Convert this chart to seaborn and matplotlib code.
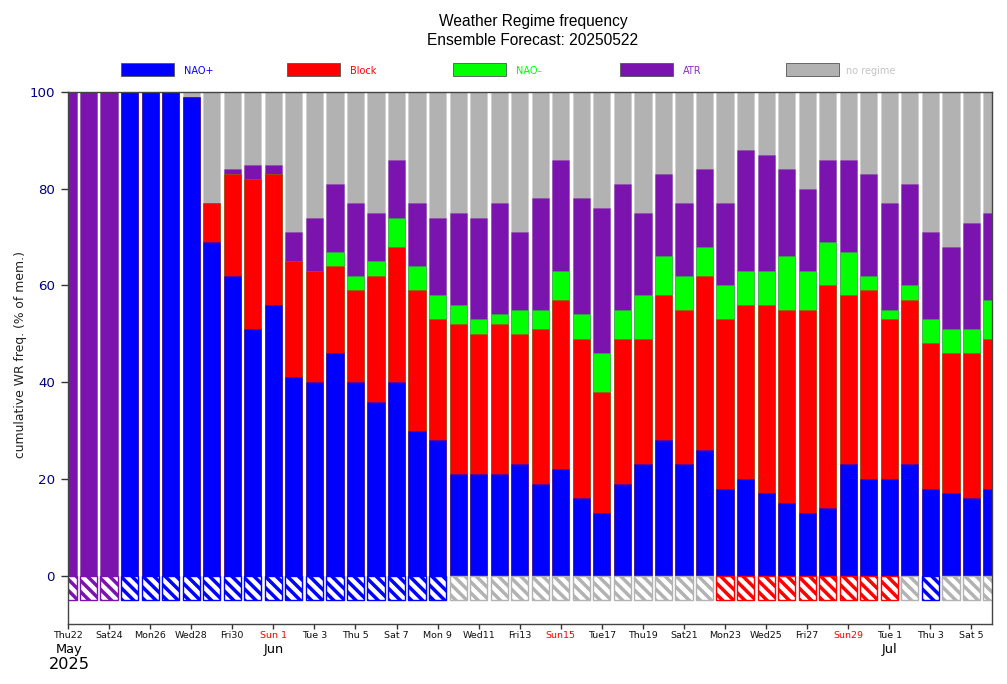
import numpy as np
import matplotlib
matplotlib.use("Agg")
import matplotlib.pyplot as plt
from matplotlib.patches import Rectangle
import seaborn as sns

# cumulative tops (% of members) per forecast day
days = list(range(46))
nao_plus = [0,0,0,100,100,100,99,69,62,51,56,41,40,46,40,36,40,30,28,21,21,21,23,19,22,16,13,19,23,28,23,26,18,20,17,15,13,14,23,20,20,23,18,17,16,18]
block    = [0,0,0,100,100,100,99,77,83,82,83,65,63,64,59,62,68,59,53,52,50,52,50,51,57,49,38,49,49,58,55,62,53,56,56,55,55,60,58,59,53,57,48,46,46,49]
nao_minus= [0,0,0,100,100,100,99,77,83,82,83,65,63,67,62,65,74,64,58,56,53,54,55,55,63,54,46,55,58,66,62,68,60,63,63,66,63,69,67,62,55,60,53,51,51,57]
atr      = [100,100,100,100,100,100,99,77,84,85,85,71,74,81,77,75,86,77,74,75,74,77,71,78,86,78,76,81,75,83,77,84,77,88,87,84,80,86,86,83,77,81,71,68,73,75]
no_regime= [100]*46
dominant = ["ATR"]*3 + ["NAO+"]*16 + ["no regime"]*13 + ["Block"]*9 + ["no regime"] + ["NAO+"] + ["no regime"]*3

regimes = ["NAO+", "Block", "NAO-", "ATR", "no regime"]
colors = ["#0000ff", "#ff0000", "#00ff00", "#7b14af", "#b2b2b2"]
label_colors = ["#0000ff", "#ff0000", "#00ff00", "#8a2bc0", "#c4c4c4"]

tick_days = list(range(0, 46, 2))
tick_labels = ["Thu22","Sat24","Mon26","Wed28","Fri30","Sun 1","Tue 3","Thu 5","Sat 7","Mon 9","Wed11",
               "Fri13","Sun15","Tue17","Thu19","Sat21","Mon23","Wed25","Fri27","Sun29","Tue 1","Thu 3","Sat 5"]
month_days = [0, 10, 40]
month_labels = ["May", "Jun", "Jul"]
year_label = "2025"
y_ticks = [0, 20, 40, 60, 80, 100]

sns.set_style("ticks")
plt.rcParams["font.family"] = ["DejaVu Sans"]
plt.rcParams["hatch.linewidth"] = 2.5
fig = plt.figure(figsize=(10.07, 6.84), dpi=100)
W, H = 1007.0, 684.0
ax = fig.add_axes([68/W, 1-624/H, (992-68)/W, (624-92)/H])

layers = [(no_regime, colors[4]), (atr, colors[3]), (nao_minus, colors[2]), (block, colors[1]), (nao_plus, colors[0])]
for vals, c in layers:
    sns.barplot(x=days, y=vals, native_scale=True, width=0.84, color=c, saturation=1,
                edgecolor=matplotlib.colors.to_rgba(c, 0.25), linewidth=0.5, errorbar=None, ax=ax)

dom = np.array(dominant)
d = np.array(days)
for name, c in zip(regimes, colors):
    sel = d[dom == name]
    if len(sel):
        sns.barplot(x=sel, y=[-5]*len(sel), native_scale=True, width=0.84, color="white", saturation=1,
                    errorbar=None, ax=ax)
        for p in ax.patches[-len(sel):]:
            p.set_facecolor("white")
            p.set_edgecolor(c)
            p.set_linewidth(1.0)
            p.set_hatch("\\\\\\")

ax.set_xlim(0, 45)
ax.set_ylim(-10, 100)
ax.set_xticks(tick_days)
ax.set_xticklabels(tick_labels, fontsize=6.8, color="#111111")
for lab in ax.get_xticklabels():
    if lab.get_text().startswith("Sun"):
        lab.set_color("#ff0000")
ax.set_yticks(y_ticks)
ax.set_yticklabels([str(v) for v in y_ticks], fontsize=9.6, color="#000080")
ax.tick_params(axis="x", length=3.5, width=1, color="#333333", pad=1.5)
ax.tick_params(axis="y", length=5, width=1, color="#333333", pad=4.5)
ax.set_xlabel("")
ax.set_ylabel("cumulative WR freq. (% of mem.)", fontsize=8.9, color="#222222")
ax.yaxis.set_label_coords(-41/924, (624-355)/532)
for s in ax.spines.values():
    s.set_visible(True)
    s.set_linewidth(1.0)
    s.set_color("#444444")

trans = ax.get_xaxis_transform()
for md, ml in zip(month_days, month_labels):
    ax.annotate(ml, (md, 0), xycoords=trans, xytext=(0.5, -13.4), textcoords="offset points",
                ha="center", va="top", fontsize=9.4, color="black")
ax.annotate(year_label, (0, 0), xycoords=trans, xytext=(1, -24), textcoords="offset points",
            ha="center", va="top", fontsize=11.6, color="black")

fig.text(533/W, 1-30.7/H, "Weather Regime frequency\nEnsemble Forecast: 20250522", ha="center", va="center",
         fontsize=11.2, family="Liberation Sans", color="black", linespacing=1.35)

text_offsets = [63, 63, 63, 63, 60]
for i, (name, c, lc) in enumerate(zip(regimes, colors, label_colors)):
    x0 = 120.7 + i*166.3
    fig.add_artist(Rectangle((x0/W, 1-76/H), 53/W, 13.5/H, transform=fig.transFigure,
                             facecolor=c, edgecolor="#555555", linewidth=0.6))
    fig.text((x0+text_offsets[i])/W, 1-71/H, name, ha="left", va="center", fontsize=7, color=lc)

fig.savefig("out.png", dpi=100)
